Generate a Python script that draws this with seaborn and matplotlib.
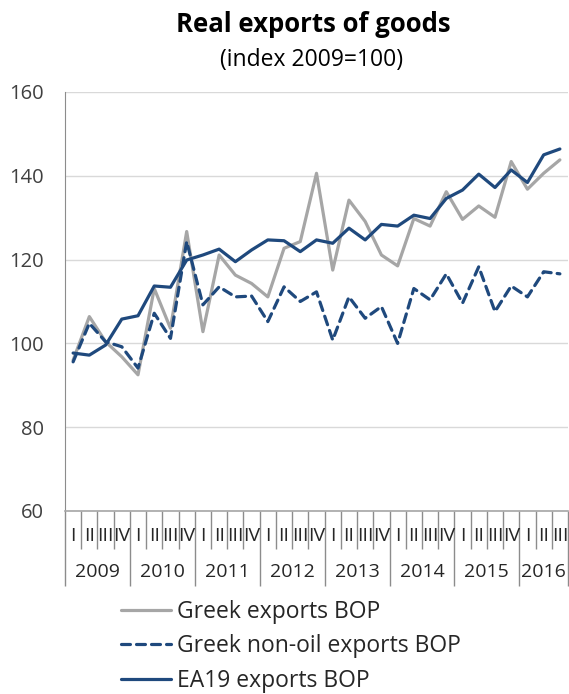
import numpy as np
import pandas as pd
import matplotlib
matplotlib.use("Agg")
import matplotlib.pyplot as plt
import matplotlib.transforms as mtransforms
import seaborn as sns

# Quarterly data, 2009Q1 - 2016Q3 (index 2009=100)
years = ['2009', '2010', '2011', '2012', '2013', '2014', '2015', '2016']
quarters = ['I', 'II', 'III', 'IV']
n_quarters_per_year = [4, 4, 4, 4, 4, 4, 4, 3]

greek_exports = [96.0, 106.4, 100.4, 96.8, 92.5, 113.1, 103.6, 126.7,
                 102.8, 121.1, 116.3, 114.3, 111.1, 122.7, 124.3, 140.6,
                 117.5, 134.2, 129.1, 121.1, 118.5, 129.8, 128.0, 136.2,
                 129.6, 132.8, 130.1, 143.4, 136.8, 140.6, 143.8]
greek_nonoil = [95.6, 104.8, 100.4, 99.2, 94.1, 107.2, 101.2, 124.3,
                109.2, 113.5, 111.1, 111.3, 105.2, 113.5, 110.0, 112.3,
                100.8, 111.1, 106.0, 108.8, 100.0, 113.1, 110.4, 116.6,
                109.6, 118.3, 107.6, 113.7, 111.1, 117.1, 116.6]
ea19_exports = [97.7, 97.2, 99.6, 105.8, 106.6, 113.7, 113.4, 119.9,
                121.1, 122.5, 119.5, 122.3, 124.7, 124.5, 121.9, 124.7,
                123.9, 127.5, 124.7, 128.4, 128.0, 130.6, 129.8, 134.6,
                136.6, 140.4, 137.2, 141.4, 138.4, 145.0, 146.4]

series_names = ['Greek exports BOP', 'Greek non-oil exports BOP', 'EA19 exports BOP']
colors = {'Greek exports BOP': '#A6A6A6',
          'Greek non-oil exports BOP': '#1F497D',
          'EA19 exports BOP': '#1F497D'}
dash_styles = {'Greek exports BOP': '',
               'Greek non-oil exports BOP': (2.8, 1.9),
               'EA19 exports BOP': ''}

t = np.arange(len(greek_exports))
df = pd.DataFrame({
    't': np.tile(t, 3),
    'value': greek_exports + greek_nonoil + ea19_exports,
    'series': np.repeat(series_names, len(t)),
})

sns.set_style('white')
plt.rcParams['font.family'] = ['Open Sans', 'DejaVu Sans']

fig = plt.figure(figsize=(5.69, 6.94), dpi=100)
ax = fig.add_axes([65 / 569, 1 - 511 / 694, 503 / 569, 419 / 694])

sns.lineplot(data=df, x='t', y='value', hue='series', style='series',
             hue_order=series_names, style_order=series_names,
             palette=colors, dashes=dash_styles, linewidth=2.3,
             legend=False, ax=ax)
for line in ax.get_lines():
    line.set_dash_capstyle('round')
    line.set_solid_capstyle('round')

ax.set_xlim(-0.5, len(t) - 0.5)
ax.set_ylim(60, 160)
ax.set_yticks(np.arange(60, 161, 20))
ax.grid(axis='y', color='#D9D9D9', linewidth=1.0)
ax.set_axisbelow(True)
ax.set_xlabel('')
ax.set_ylabel('')
for s in ['top', 'right']:
    ax.spines[s].set_visible(False)
ax.spines['left'].set_color('#8C8C8C')
ax.spines['bottom'].set_color('#A6A6A6')
ax.spines['bottom'].set_linewidth(1.2)
ax.tick_params(axis='y', length=0, pad=15, labelsize=14.5, labelcolor='#404040')

# category axis: quarter boundaries (minor) and year boundaries (major)
bounds = np.arange(len(t) + 1) - 0.5
year_starts = np.concatenate([[0], np.cumsum(n_quarters_per_year)]) - 0.5
ax.set_xticks(year_starts)
ax.set_xticklabels([])
ax.set_xticks(bounds, minor=True)
ax.tick_params(axis='x', which='both', bottom=True, direction='out', color='#8C8C8C', width=1.0)
ax.tick_params(axis='x', which='major', length=54)
ax.tick_params(axis='x', which='minor', length=27)

trans = mtransforms.blended_transform_factory(ax.transData, ax.transAxes)
k = 0
for year, nq in zip(years, n_quarters_per_year):
    for q in range(nq):
        ax.text(k + q, -0.06, quarters[q], transform=trans, ha='center', va='center',
                fontsize=14, color='#262626')
    ax.text(k + (nq - 1) / 2, -0.146, year, transform=trans, ha='center', va='center',
            fontsize=14, color='#262626')
    k += nq

fig.text(313 / 569, 1 - 25 / 694, 'Real exports of goods', ha='center', va='center',
         fontsize=18.5, fontweight='bold', color='black')
fig.text(312 / 569, 1 - 60 / 694, '(index 2009=100)', ha='center', va='center',
         fontsize=16.5, color='black')

handles = ax.get_lines()[:3]
fig.legend(handles, series_names, loc='upper left', bbox_to_anchor=(121 / 569, 1 - 600 / 694),
           frameon=False, fontsize=16.5, handlelength=2.2, handletextpad=0.25,
           labelspacing=0.45, borderpad=0, borderaxespad=0, labelcolor='#262626')

fig.savefig('out.png', dpi=100)
